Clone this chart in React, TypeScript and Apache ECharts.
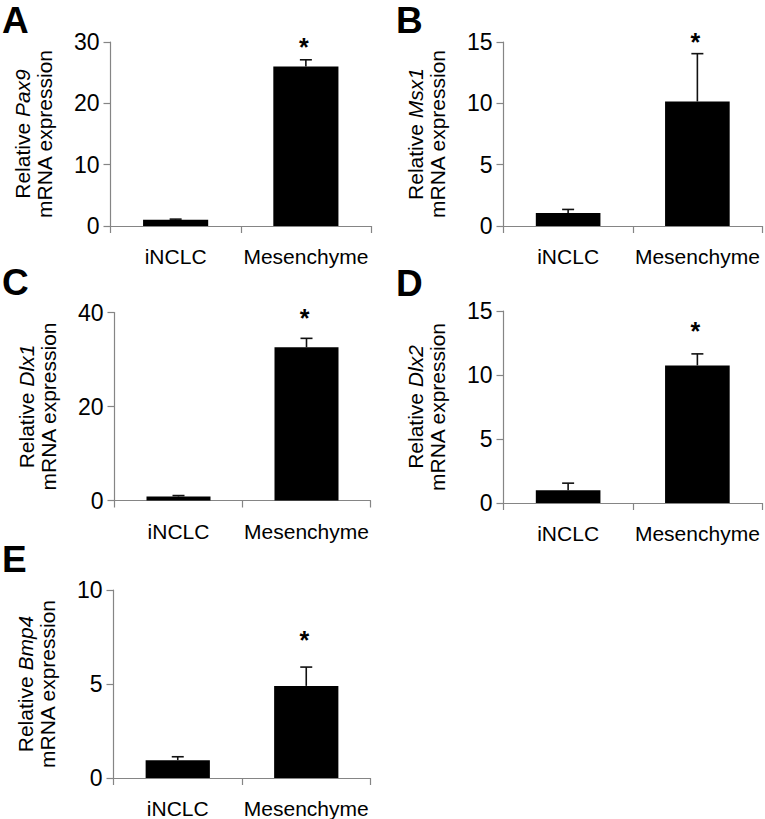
import React, { useEffect, useRef } from "react";
import * as echarts from "echarts";

// ---- data ----
const categories = ["iNCLC", "Mesenchyme"];

const pax9Mean = [1.0, 26.0];
const pax9Err = [0.12, 1.1];
const msx1Mean = [1.05, 10.15];
const msx1Err = [0.3, 3.9];
const dlx1Mean = [0.85, 32.6];
const dlx1Err = [0.2, 1.9];
const dlx2Mean = [1.0, 10.75];
const dlx2Err = [0.55, 0.9];
const bmp4Mean = [0.95, 4.9];
const bmp4Err = [0.18, 1.0];

const genes = ["Pax9", "Msx1", "Dlx1", "Dlx2", "Bmp4"];
const panelLetters = ["A", "B", "C", "D", "E"];
const yMax = [30, 15, 40, 15, 10];
const yInterval = [10, 5, 20, 5, 5];
// star annotation heights (data units) above the Mesenchyme bar
const starY = [30.0, 15.4, 40.0, 13.8, 7.6];

const means = [pax9Mean, msx1Mean, dlx1Mean, dlx2Mean, bmp4Mean];
const errs = [pax9Err, msx1Err, dlx1Err, dlx2Err, bmp4Err];

// ---- layout (not data) ----
const grids = [
  { left: 110.5, top: 42, width: 260.5, height: 184 },
  { left: 503.5, top: 42, width: 258.5, height: 184 },
  { left: 114.5, top: 312.5, width: 256, height: 188 },
  { left: 503.5, top: 311, width: 258.5, height: 192 },
  { left: 113.5, top: 590, width: 257, height: 190.5 },
];
const letterPos = [
  [2, 2],
  [396, 2],
  [2, 264],
  [396, 265],
  [2, 541],
];

const FONT = "'Liberation Sans', Arial, Helvetica, sans-serif";
const AXIS_GRAY = "#858585";

export default function App() {
  const ref = useRef<HTMLDivElement>(null);

  useEffect(() => {
    if (!ref.current) return;
    const chart = echarts.init(ref.current, undefined, { renderer: "svg" });

    const grid: any[] = [];
    const xAxis: any[] = [];
    const yAxis: any[] = [];
    const series: any[] = [];

    for (let i = 0; i < 5; i++) {
      grid.push({ ...grids[i], containLabel: false });
      xAxis.push({
        type: "category",
        gridIndex: i,
        data: categories,
        boundaryGap: true,
        axisLine: { lineStyle: { color: AXIS_GRAY, width: 1.2 } },
        axisTick: { show: true, length: 7, lineStyle: { color: AXIS_GRAY, width: 1.2 } },
        axisLabel: {
          color: "#000",
          fontSize: 21,
          fontFamily: FONT,
          margin: 20,
          interval: 0,
          hideOverlap: false,
        },
        splitLine: { show: false },
      });
      yAxis.push({
        type: "value",
        gridIndex: i,
        min: 0,
        max: yMax[i],
        interval: yInterval[i],
        axisLine: { show: true, lineStyle: { color: AXIS_GRAY, width: 1.2 } },
        axisTick: { show: true, length: 7, lineStyle: { color: AXIS_GRAY, width: 1.2 } },
        axisLabel: { color: "#000", fontSize: 23, fontFamily: FONT, margin: 11 },
        splitLine: { show: false },
        name: `{n|Relative }{i|${genes[i]}}\n{n|mRNA expression}`,
        nameLocation: "middle",
        nameRotate: 90,
        nameGap: 55,
        nameTextStyle: {
          color: "#000",
          fontFamily: FONT,
          fontSize: 21,
          rich: {
            n: { fontSize: 21, fontFamily: FONT, color: "#000", lineHeight: 22 },
            i: { fontSize: 21, fontFamily: FONT, color: "#000", fontStyle: "italic", lineHeight: 22 },
          },
        },
      });

      series.push({
        type: "bar",
        xAxisIndex: i,
        yAxisIndex: i,
        data: means[i],
        barWidth: "50%",
        itemStyle: { color: "#000" },
        z: 2,
      });

      series.push({
        type: "custom",
        xAxisIndex: i,
        yAxisIndex: i,
        z: 3,
        data: means[i].map((m, k) => [k, m, errs[i][k]]),
        renderItem: (params: any, api: any) => {
          const cx = api.value(0);
          const m = api.value(1);
          const e = api.value(2);
          const base = api.coord([cx, m]);
          const top = api.coord([cx, m + e]);
          const half = 6;
          return {
            type: "group",
            children: [
              {
                type: "line",
                shape: { x1: base[0], y1: base[1], x2: top[0], y2: top[1] },
                style: { stroke: "#111", lineWidth: 1.6 },
              },
              {
                type: "line",
                shape: { x1: top[0] - half, y1: top[1], x2: top[0] + half, y2: top[1] },
                style: { stroke: "#111", lineWidth: 1.6 },
              },
            ],
          };
        },
      });

      series.push({
        type: "custom",
        xAxisIndex: i,
        yAxisIndex: i,
        z: 4,
        data: [[1, starY[i]]],
        renderItem: (params: any, api: any) => {
          const p = api.coord([api.value(0), api.value(1)]);
          return {
            type: "text",
            x: p[0] - 2,
            y: p[1] + 5,
            style: {
              text: "*",
              fill: "#000",
              font: `bold 25px ${FONT}`,
              textAlign: "center",
              textVerticalAlign: "middle",
            },
          };
        },
      });
    }

    const graphic = panelLetters.map((l, i) => ({
      type: "text",
      left: letterPos[i][0],
      top: letterPos[i][1],
      style: {
        text: l,
        fill: "#000",
        font: `bold 37px ${FONT}`,
      },
    }));

    chart.setOption({
      animation: false,
      backgroundColor: "#fff",
      grid,
      xAxis,
      yAxis,
      series,
      graphic,
    });

    return () => chart.dispose();
  }, []);

  return (
    <div
      ref={ref}
      style={{ position: "fixed", left: 0, top: 0, width: 765, height: 819, background: "#fff" }}
    />
  );
}
